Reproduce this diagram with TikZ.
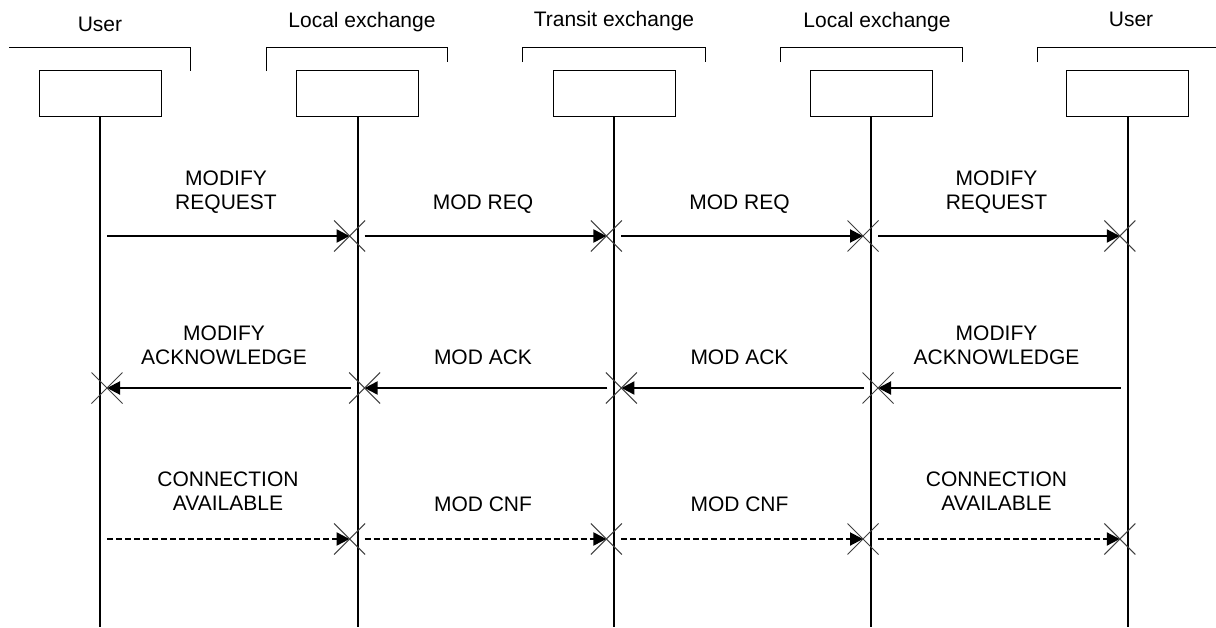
\documentclass[tikz,border=0pt]{standalone}
\usepackage{fontspec}
\setmainfont{Liberation Sans}
\usetikzlibrary{arrows.meta,calc,shapes.misc}
\begin{document}
\begin{tikzpicture}[x=1pt,y=-1pt,
  lbl/.style={font=\fontsize{21}{24}\selectfont, align=center, inner sep=0pt},
  entity/.style={draw, line width=1pt, minimum width=122pt, minimum height=46pt, inner sep=0pt},
  lifeline/.style={line width=2pt},
  bracket/.style={line width=1pt},
  msg/.style={line width=2pt, -{Triangle[length=13pt,width=13pt]}},
  dmsg/.style={msg, dash pattern=on 6pt off 3pt},
  xmark/.style={cross out, draw=black!75, line width=1pt, minimum size=30pt, inner sep=0pt},
]
\useasboundingbox (0,0) rectangle (1216,627);

% header labels
\node[lbl] (h1) at (100,24) {User};
\node[lbl] (h2) at (362,22) {Local exchange};
\node[lbl] (h3) at (614,21) {Transit exchange};
\node[lbl] (h4) at (877,22) {Local exchange};
\node[lbl] (h5) at (1131,19) {User};

% brackets
\draw[bracket] (9,47.7) -- (190.7,47.7) -- (190.7,71);
\draw[bracket] (266.7,71) -- (266.7,47.7) -- (447,47.7) -- (447,62);
\draw[bracket] (522.7,62) -- (522.7,47.7) -- (705,47.7) -- (705,62);
\draw[bracket] (780,62) -- (780,47.7) -- (962.3,47.7) -- (962.3,62);
\draw[bracket] (1037.3,62) -- (1037.3,47.7) -- (1216,47.7);

% entity boxes and lifelines
\foreach \i/\x in {1/100,2/357.6,3/614.4,4/871,5/1127.8} {
  \node[entity] (b\i) at (\x,93) {};
  \coordinate (e\i) at (\x,627);
  \draw[lifeline] (b\i.south) -- (e\i);
}

% row 1: requests (left to right)
\foreach \i/\j in {1/2,2/3,3/4,4/5} {
  \coordinate (ra\i) at ($(b\i.south |- 0,236)+(7,0)$);
  \coordinate (rb\i) at ($(b\j.south |- 0,236)+(-8,0)$);
  \draw[msg] (ra\i) -- (rb\i);
  \node[xmark] (rx\i) at (rb\i) {};
}
% row 2: acknowledges (right to left)
\foreach \i/\j in {1/2,2/3,3/4,4/5} {
  \coordinate (aa\i) at ($(b\j.south |- 0,388)+(-7,0)$);
  \coordinate (ab\i) at ($(b\i.south |- 0,388)+(7,0)$);
  \draw[msg] (aa\i) -- (ab\i);
  \node[xmark] (ax\i) at (ab\i) {};
}
% row 3: confirmations (left to right, dashed)
\foreach \i/\j in {1/2,2/3,3/4,4/5} {
  \coordinate (ca\i) at ($(b\i.south |- 0,539)+(7,0)$);
  \coordinate (cb\i) at ($(b\j.south |- 0,539)+(-8,0)$);
  \draw[dmsg] (ca\i) -- (cb\i);
  \node[xmark] (cx\i) at (cb\i) {};
}

% message labels
\node[lbl] (l11) at (226,192.5) {MODIFY\\REQUEST};
\node[lbl] (l12) at (483,204.5) {MOD REQ};
\node[lbl] (l13) at (739.5,204.5) {MOD REQ};
\node[lbl] (l14) at (996.5,192.5) {MODIFY\\REQUEST};

\node[lbl] (l21) at (224,345) {MODIFY\\ACKNOWLEDGE};
\node[lbl] (l22) at (483,357.5) {MOD ACK};
\node[lbl] (l23) at (739.5,357.5) {MOD ACK};
\node[lbl] (l24) at (996.5,345) {MODIFY\\ACKNOWLEDGE};

\node[lbl] (l31) at (228,491.5) {CONNECTION\\AVAILABLE};
\node[lbl] (l32) at (483,504) {MOD CNF};
\node[lbl] (l33) at (739.5,504) {MOD CNF};
\node[lbl] (l34) at (996.5,491.5) {CONNECTION\\AVAILABLE};
\end{tikzpicture}
\end{document}
